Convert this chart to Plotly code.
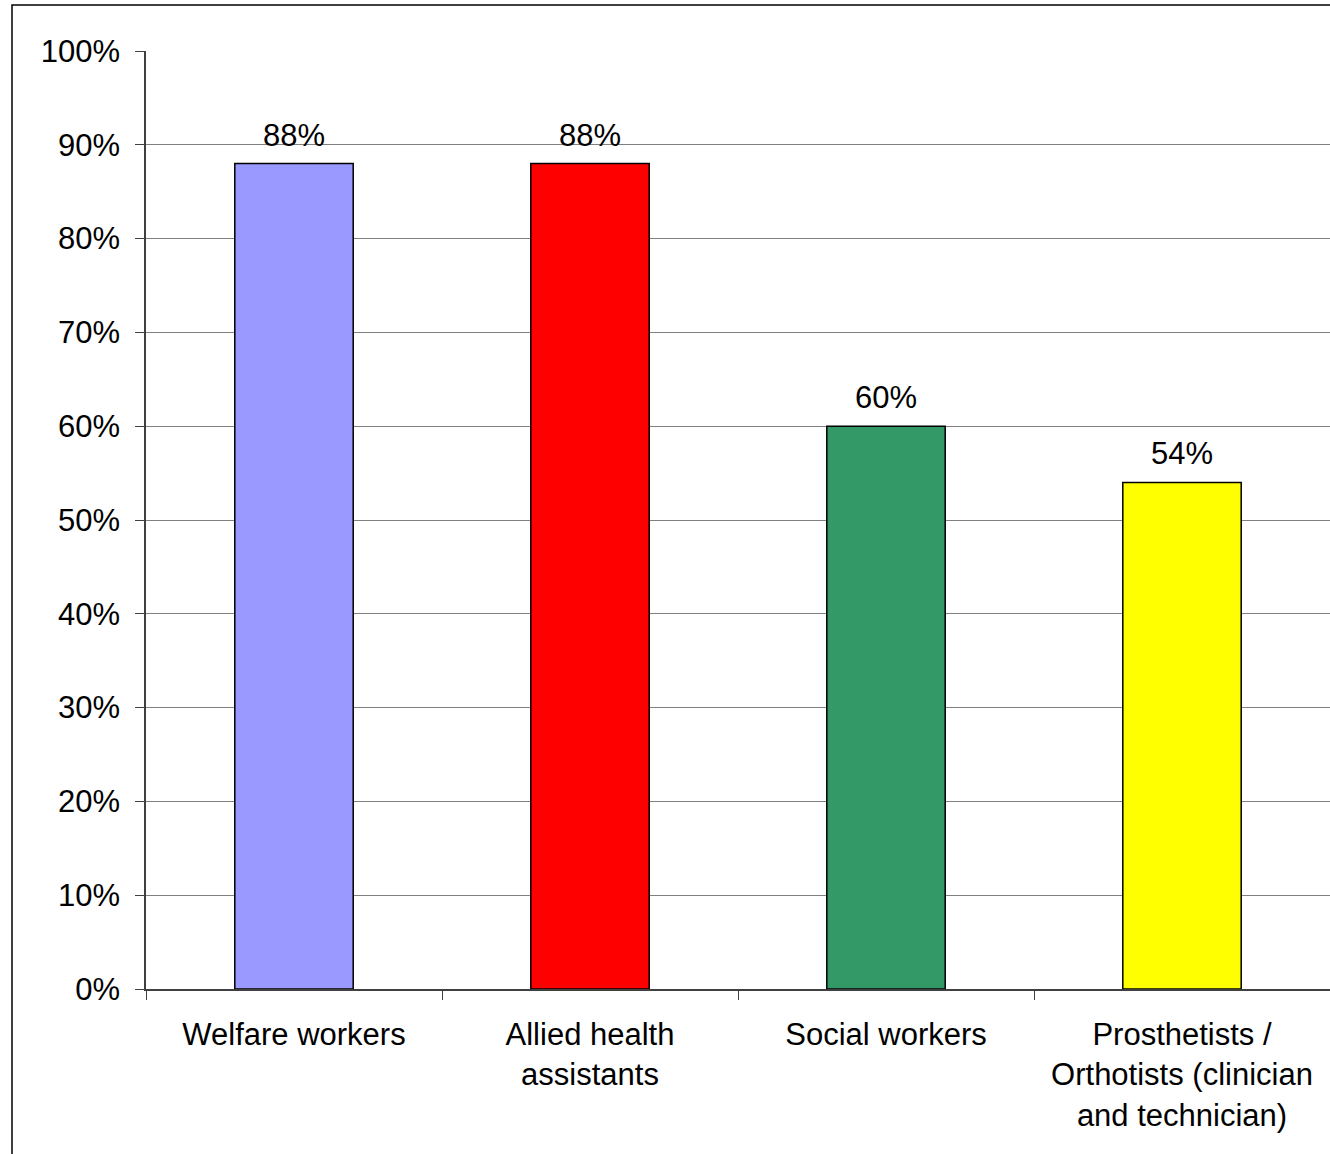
import plotly.graph_objects as go

# Share of each workforce group (percent)
categories = [
    "Welfare workers",
    "Allied health<br>assistants",
    "Social workers",
    "Prosthetists /<br>Orthotists (clinician<br>and technician)",
]
values = [88, 88, 60, 54]
bar_colors = ["#9999FF", "#FF0000", "#339966", "#FFFF00"]
y_ticks = list(range(0, 101, 10))
y_tick_labels = [f"{v}%" for v in y_ticks]

FONT = "Liberation Sans, Arial, sans-serif"
FS = 31
W, H = 1330, 1154
M_L, M_R, M_T, M_B = 146, 0, 51, H - 989

fig = go.Figure()
fig.add_trace(go.Bar(
    x=categories,
    y=values,
    marker=dict(color=bar_colors, line=dict(color="black", width=1.5)),
    width=0.4,
    hoverinfo="skip",
))

# value labels above the bars
for c, v in zip(categories, values):
    fig.add_annotation(
        x=c, y=v, text=f"{v}%", showarrow=False,
        yanchor="bottom", yshift=9,
        font=dict(family=FONT, size=FS, color="black"),
    )

# outer chart frame
pw = W - M_L - M_R
ph = H - M_T - M_B
fig.add_shape(
    type="rect", xref="paper", yref="paper",
    x0=(12 - M_L) / pw, x1=(W + 20 - M_L) / pw,
    y0=-(H + 20 - (M_T + ph)) / ph, y1=(M_T + ph - 5) / ph,
    line=dict(color="black", width=1.5), fillcolor="rgba(0,0,0,0)",
    layer="above",
)

fig.update_layout(
    width=W, height=H,
    margin=dict(l=M_L, r=M_R, t=M_T, b=M_B),
    paper_bgcolor="white", plot_bgcolor="white",
    showlegend=False,
    font=dict(family=FONT, size=FS, color="black"),
    bargap=0.6,
)
fig.update_xaxes(
    type="category",
    tickson="boundaries",
    ticks="outside", ticklen=9, tickwidth=1, tickcolor="#404040",
    showline=True, linecolor="#404040", linewidth=1.5,
    showgrid=False,
    tickfont=dict(family=FONT, size=FS, color="black"),
    ticklabelstandoff=17,
)
fig.update_yaxes(
    range=[0, 100],
    tickvals=y_ticks, ticktext=y_tick_labels,
    ticks="outside", ticklen=9, tickwidth=1, tickcolor="#404040",
    showline=True, linecolor="#404040", linewidth=1.5,
    showgrid=True, gridcolor="#808080", gridwidth=1,
    zeroline=False,
    tickfont=dict(family=FONT, size=FS, color="black"),
    ticklabelstandoff=9,
)

fig.write_html("out.html")
